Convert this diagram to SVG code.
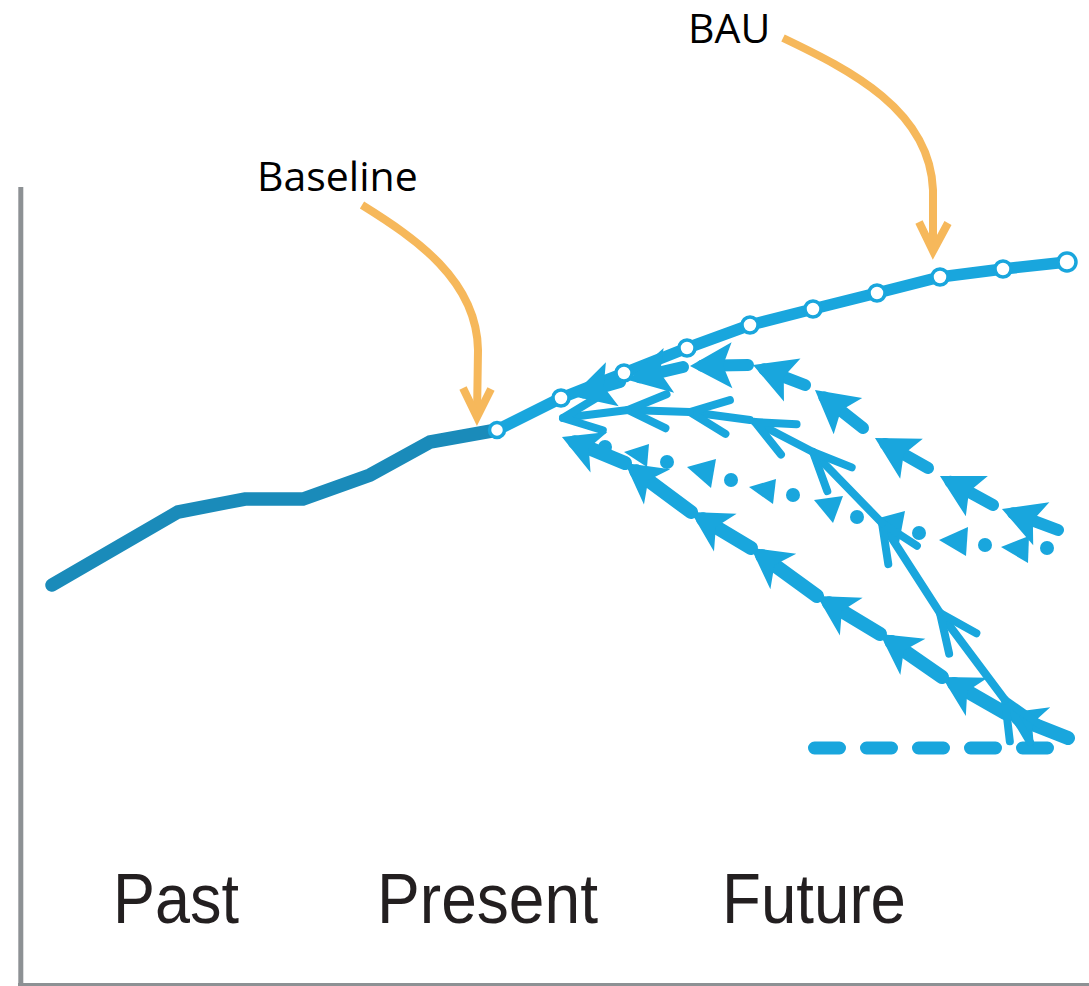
<svg xmlns="http://www.w3.org/2000/svg" width="1089" height="986" viewBox="0 0 1089 986">
<style>
.axis{stroke:#8d9194;fill:none}
.past{stroke:#1a8bba;stroke-width:13.5;fill:none;stroke-linecap:round;stroke-linejoin:miter}
.bau{stroke:#19a6dd;stroke-width:11.5;fill:none;stroke-linejoin:round}
.pt{fill:#fff;stroke:#19a6dd;stroke-width:3.5}
.sa{stroke:#19a6dd;stroke-width:12;stroke-linecap:round;marker-end:url(#headA)}
.sd{stroke:#19a6dd;stroke-width:14;stroke-linecap:round;marker-end:url(#headD)}
.sb{stroke:#19a6dd;stroke-width:8;stroke-linecap:round;fill:none;marker-end:url(#headB)}
.dot{fill:#19a6dd}
.tri{fill:#19a6dd}
.dash{stroke:#19a6dd;stroke-width:13;stroke-linecap:round;stroke-dasharray:25 27}
.orange{stroke:#f6b85b;stroke-width:8;fill:none;stroke-linejoin:miter}
.lbl{font-family:"Open Sans","DejaVu Sans",sans-serif;font-size:41px;fill:#000}
.period{font-family:"Liberation Sans",Arial,sans-serif;font-size:71px;fill:#231f20}
</style>
<defs>
<marker id="headA" markerUnits="userSpaceOnUse" orient="auto" refX="-12" refY="0" markerWidth="60" markerHeight="60" overflow="visible">
<path d="M0,0 L-42,-23 L-33,0 L-42,23 Z" fill="#19a6dd"/>
</marker>
<marker id="headD" markerUnits="userSpaceOnUse" orient="auto" refX="-14" refY="0" markerWidth="60" markerHeight="60" overflow="visible">
<path d="M0,0 L-40,-22 L-29,0 L-40,22 Z" fill="#19a6dd"/>
</marker>
<marker id="headB" markerUnits="userSpaceOnUse" orient="auto" refX="0" refY="0" markerWidth="60" markerHeight="60" overflow="visible">
<path d="M-38,-17 L0,0 L-38,17" fill="none" stroke="#19a6dd" stroke-width="8" stroke-linecap="round" stroke-linejoin="round"/>
</marker>
</defs>
<rect width="1089" height="986" fill="#fff"/>

<g id="axis">
<line class="axis" x1="20.8" y1="187" x2="20.8" y2="985" stroke-width="5"/>
<line class="axis" x1="18" y1="984.5" x2="1089" y2="984.5" stroke-width="3"/>
</g>

<g id="past-line">
<polyline class="past" points="52,585 178,512 245,499 303,499 370,475 430,442 497,430"/>
</g>

<g id="bau-line">
<polyline class="bau" points="497,430 561,398 624,373 687,348 750,325 813,309 877,293 940,277 1003,269 1067,262"/>
</g>

<g id="scenario-dashed">
<line class="dash" x1="814.5" y1="748" x2="1047.5" y2="748"/>
</g>

<g id="scenario-dotted">
<circle class="dot" cx="605" cy="447" r="7"/>
<circle class="dot" cx="667" cy="462" r="7"/>
<circle class="dot" cx="731" cy="480" r="7"/>
<circle class="dot" cx="793" cy="495" r="7"/>
<circle class="dot" cx="857" cy="517" r="7"/>
<circle class="dot" cx="919" cy="533" r="7"/>
<circle class="dot" cx="985" cy="545" r="7"/>
<circle class="dot" cx="1047" cy="548" r="7"/>
<polygon class="tri" points="624,452 649,444 647,467"/>
<polygon class="tri" points="687,467 716,459 711,488"/>
<polygon class="tri" points="749,487 776,479 773,504"/>
<polygon class="tri" points="814,500 843,496 833,523"/>
<polygon class="tri" points="879,518 905,511 899,543"/>
<polygon class="tri" points="939,540 968,527 966,556"/>
<polygon class="tri" points="1001,547 1029,536 1028,563"/>
</g>

<g id="scenario-thick-low">
<line class="sd" x1="1068" y1="738" x2="1018" y2="718.2"/>
<line class="sd" x1="1005" y1="713" x2="954.2" y2="683.9"/>
<line class="sd" x1="942" y1="677" x2="891.5" y2="642"/>
<line class="sd" x1="880" y1="634" x2="829" y2="603.2"/>
<line class="sd" x1="817" y1="596" x2="762.3" y2="556.2"/>
<line class="sd" x1="751" y1="548" x2="703" y2="519.2"/>
<line class="sd" x1="691" y1="512" x2="636.2" y2="471.3"/>
<line class="sd" x1="625" y1="463" x2="574.9" y2="442.3"/>
</g>

<g id="scenario-thin">
<line class="sb" x1="1030" y1="742" x2="1005" y2="700"/>
<line class="sb" x1="1005" y1="700" x2="940" y2="613"/>
<line class="sb" x1="940" y1="613" x2="882" y2="523"/>
<line class="sb" x1="882" y1="523" x2="813" y2="452"/>
<line class="sb" x1="813" y1="452" x2="755" y2="422"/>
<line class="sb" x1="750" y1="420" x2="690" y2="412"/>
<line class="sb" x1="690" y1="412" x2="628" y2="410"/>
<line class="sb" x1="628" y1="410" x2="563" y2="418"/>
</g>

<g id="scenario-thick-high">
<line class="sa" x1="1058" y1="530" x2="1013.2" y2="513.2"/>
<line class="sa" x1="993" y1="505" x2="950.5" y2="481.8"/>
<line class="sa" x1="928" y1="468" x2="885.4" y2="443.9"/>
<line class="sa" x1="863" y1="428" x2="824.4" y2="397.5"/>
<line class="sa" x1="805" y1="385" x2="764.2" y2="369.3"/>
<line class="sa" x1="748" y1="365" x2="702" y2="365.8"/>
<line class="sa" x1="683" y1="367" x2="639.7" y2="377.2"/>
<line class="sa" x1="620" y1="382" x2="583.5" y2="392.6"/>
</g>

<g id="bau-points">
<circle class="pt" cx="497" cy="430" r="7.5"/>
<circle class="pt" cx="561" cy="398" r="8"/>
<circle class="pt" cx="624" cy="373" r="8"/>
<circle class="pt" cx="687" cy="348" r="8"/>
<circle class="pt" cx="750" cy="325" r="8"/>
<circle class="pt" cx="813" cy="309" r="8"/>
<circle class="pt" cx="877" cy="293" r="8"/>
<circle class="pt" cx="940" cy="277" r="8"/>
<circle class="pt" cx="1003" cy="269" r="8"/>
<circle class="pt" cx="1067" cy="262" r="9"/>
</g>

<g id="connectors">
<path class="orange" d="M362,205 C415,238 477,280 478,350 L477,416"/>
<path class="orange" d="M463,388 L477,417 L491,389"/>
<path class="orange" d="M783,38 C850,70 930,110 933,190 L933,250"/>
<path class="orange" d="M919,222 L933,251 L948,223"/>
</g>

<g id="label-baseline"><text class="lbl" x="257" y="191">Baseline</text></g>
<g id="label-bau"><text class="lbl" x="688" y="43">BAU</text></g>
<g id="label-past"><text class="period" x="113" y="923" textLength="126" lengthAdjust="spacingAndGlyphs">Past</text></g>
<g id="label-present"><text class="period" x="377" y="923" textLength="221" lengthAdjust="spacingAndGlyphs">Present</text></g>
<g id="label-future"><text class="period" x="722" y="923" textLength="184" lengthAdjust="spacingAndGlyphs">Future</text></g>
</svg>
